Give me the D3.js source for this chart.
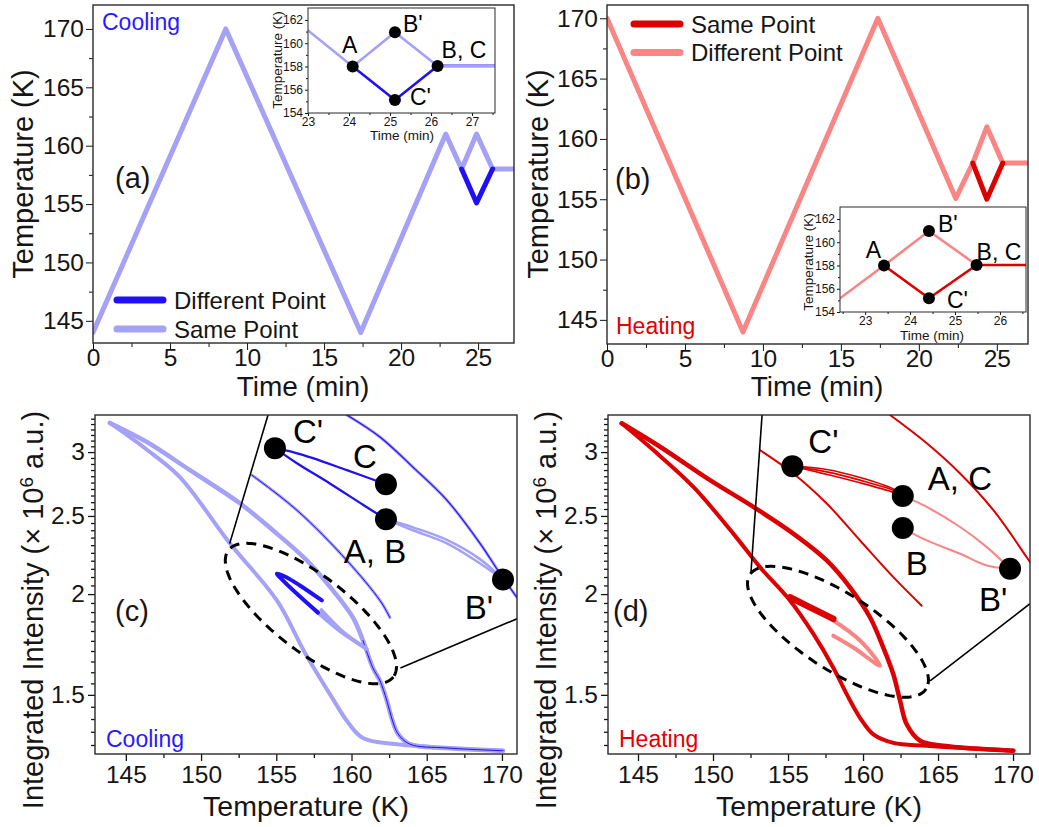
<!DOCTYPE html>
<html><head><meta charset="utf-8">
<script src="https://cdn.jsdelivr.net/npm/d3@7"></script>
<style>
body{margin:0;background:#fff;}
svg text{font-family:"Liberation Sans",Arial,Helvetica,sans-serif;}
</style></head><body>
<svg id="chart" width="1039" height="827"></svg>
<script>
// ================= DATA =================
// (a) Cooling temperature program
const aTime      = [0, 8.62, 17.38, 22.9, 23.93, 24.9, 25.94, 27.33];
const aTempSame  = [144, 170, 144, 161, 158, 161, 158, 158];
const aTimeDiff  = [23.93, 24.9, 25.94];
const aTempDiff  = [158, 155.1, 158];
// (a) inset
const aInsTimeSame = [23, 24.09, 25.12, 26.16, 27.56];
const aInsTempSame = [161.1, 158, 160.94, 158.05, 158.05];
const aInsTimeDiff = [24.09, 25.12, 26.16, 27.56];
const aInsTempDiff = [158, 155.12, 158.05, 158.05];
const aInsPts = [["A",24.09,158],["B'",25.12,160.94],["C'",25.12,155.12],["B, C",26.16,158.05]];

// (b) Heating temperature program
const bTime      = [0, 8.72, 17.37, 22.37, 23.46, 24.36, 25.38, 27.0];
const bTempDiff  = [170, 144, 170, 155.07, 158, 161, 158, 158];
const bTimeSame  = [23.46, 24.36, 25.38];
const bTempSame  = [158, 155, 158];
// (b) inset
const bInsTimeDiff = [22.44, 23.42, 24.42, 25.48];
const bInsTempDiff = [155.18, 158, 160.97, 158.04];
const bInsTimeSame = [23.42, 24.42, 25.48, 26.58];
const bInsTempSame = [158, 155.18, 158.04, 158.04];
const bInsPts = [["A",23.42,158],["B'",24.42,160.97],["C'",24.42,155.18],["B, C",25.48,158.04]];

// (c) Cooling: integrated intensity vs temperature [T (K), I (x1e6 a.u.)]
const cMajorRight = [[143.94,3.26],[146.4,3.087],[149.26,2.849],[152.58,2.592],[154.77,2.40],[157.03,2.202],[158.76,2.021],[160.09,1.871],[160.76,1.752],[161.42,1.62],[161.89,1.562],[162.35,1.475],[162.69,1.40],[163.09,1.342],[163.88,1.303],[166.34,1.289],[170.07,1.279]];
const cMajorLeft  = [[143.94,3.26],[146.4,3.02],[148.59,2.793],[151.91,2.312],[155.04,1.964],[156.9,1.692],[158.76,1.483],[159.69,1.393],[160.76,1.326],[163.02,1.303],[170.07,1.279]];
const cInner      = [[153.38,2.809],[156.37,2.541],[159.69,2.202],[161.89,1.964],[162.55,1.871]];
const cOuter      = [[159.69,3.335],[161.89,3.132],[164.08,2.874],[166.34,2.615],[168.54,2.312],[169.87,2.121],[171.0,1.98]];
const cDiffToC    = [[154.91,3.034],[156.1,3.0],[157.43,2.949],[159.69,2.849],[162.29,2.737]];
const cDiffToB    = [[154.91,3.034],[156.37,2.906],[158.56,2.743],[160.76,2.581],[162.29,2.476]];
const cSameToB1   = [[162.29,2.476],[164.08,2.40],[166.34,2.312],[168.54,2.183],[170.07,2.085]];
const cSameToB2   = [[162.29,2.476],[164.08,2.42],[166.34,2.335],[168.54,2.21],[170.07,2.085]];
const cLoopDiff   = [[158.03,1.964],[156.57,2.05],[155.57,2.103],[155.04,2.121],[155.44,2.08],[156.57,1.986],[157.77,1.897]];
const cLoopSame   = [[157.77,1.897],[159.23,1.80],[161.02,1.71],[159.5,1.79],[158.0,1.91]];
const cPts = [["C'",154.91,3.034],["C",162.29,2.737],["A, B",162.29,2.476],["B'",170.07,2.085]];
const cEllipse = [157.3, 1.892];
const cZoomLines = [[[151.9,2.31],[154.45,3.335]],[[163.25,1.62],[171.0,1.864]]];

// (d) Heating
const dMajorRight = [[143.91,3.257],[146.47,3.046],[149.8,2.769],[152.69,2.565],[155.35,2.377],[157.58,2.202],[159.13,2.039],[160.47,1.871],[161.35,1.717],[162.02,1.591],[162.47,1.475],[162.91,1.379],[163.8,1.316],[165.35,1.297],[170.02,1.279]];
const dMajorLeft  = [[143.91,3.257],[146.02,3.017],[148.69,2.716],[151.35,2.377],[153.13,2.16],[155.13,1.964],[156.69,1.785],[158.02,1.621],[158.91,1.503],[159.8,1.405],[160.69,1.34],[162.02,1.308],[164.25,1.297],[170.02,1.279]];
const dInner      = [[153.13,3.017],[155.35,2.822],[157.58,2.59],[159.8,2.331],[162.02,2.099],[163.91,1.935]];
const dOuter      = [[161.8,3.335],[164.25,3.076],[166.47,2.822],[168.69,2.541],[170.91,2.222],[171.8,2.10]];
const dSame1      = [[155.29,2.882],[157.58,2.855],[159.8,2.79],[162.02,2.70],[162.65,2.647]];
const dSame2      = [[155.29,2.882],[157.58,2.835],[159.8,2.769],[162.02,2.69],[162.65,2.647]];
const dSame3      = [[155.29,2.882],[157.58,2.815],[159.8,2.748],[162.02,2.675],[162.65,2.647]];
const dDiffAC     = [[162.65,2.647],[164.25,2.565],[166.47,2.422],[168.25,2.287],[169.8,2.15]];
const dDiffB      = [[162.65,2.415],[164.25,2.331],[166.47,2.244],[168.25,2.17],[169.8,2.15]];
const dLoopSame   = [[155.13,1.982],[156.47,1.926],[158.02,1.863]];
const dLoopDiff   = [[158.02,1.855],[159.8,1.752],[161.13,1.63],[159.35,1.717],[158.02,1.776]];
const dPts = [["C'",155.29,2.882],["A, C",162.65,2.647],["B",162.65,2.415],["B'",169.8,2.15]];
const dEllipse = [158.33, 1.796];
const dZoomLines = [[[152.53,2.127],[153.27,3.335]],[[164.47,1.561],[171.13,1.946]]];

// tick values
const timeTicks = [0,5,10,15,20,25];
const timeMinor = [2.5,7.5,12.5,17.5,22.5];
const tempTicks = [145,150,155,160,165,170];
const tempMinor = [147.5,152.5,157.5,162.5,167.5];
const intTicks  = [1.5,2,2.5,3];
const intMinor  = d3.range(1.3,3.34,0.05).map(v=>+v.toFixed(2)).filter(v=>!intTicks.includes(v));
const insTempTicks = [154,156,158,160,162];
const insTempMinor = [155,157,159,161];

// ================= STYLE =================
const BLUE="#2010f5", LAV="#a4a1f6", RED="#dc0000", SAL="#f98585";
const COOLTXT="#2a1aff", HEATTXT="#e00000", INK="#151515";
const svg = d3.select("#chart");

function axes(g, x, y, o){
  const y0=y.range()[0], y1=y.range()[1], x0=x.range()[0], x1=x.range()[1];
  const rm = s=>s.select(".domain").remove();
  g.append("g").attr("transform",`translate(0,${y0})`)
    .call(d3.axisBottom(x).tickValues(o.xMinor).tickSize(o.minLen).tickFormat("")).call(rm);
  g.append("g").attr("transform",`translate(0,${y0})`)
    .call(d3.axisBottom(x).tickValues(o.xMajor).tickSize(o.majLen).tickPadding(o.xPad).tickFormat(o.xFmt)).call(rm)
    .attr("font-size",o.fs).attr("font-family",null);
  g.append("g").attr("transform",`translate(${x0},0)`)
    .call(d3.axisLeft(y).tickValues(o.yMinor).tickSize(o.minLen).tickFormat("")).call(rm);
  g.append("g").attr("transform",`translate(${x0},0)`)
    .call(d3.axisLeft(y).tickValues(o.yMajor).tickSize(o.majLen).tickPadding(o.yPad).tickFormat(o.yFmt)).call(rm)
    .attr("font-size",o.fs).attr("font-family",null);
  g.selectAll(".tick line").attr("stroke",INK).attr("stroke-width",o.tw);
  g.selectAll(".tick text").attr("fill",INK);
  g.append("rect").attr("x",x0).attr("y",y1).attr("width",x1-x0).attr("height",y0-y1)
    .attr("fill","none").attr("stroke","#2a2a2a").attr("stroke-width",o.bw);
}
function clip(id, x, y){
  svg.append("clipPath").attr("id",id).append("rect")
    .attr("x",x.range()[0]).attr("y",y.range()[1])
    .attr("width",x.range()[1]-x.range()[0]).attr("height",y.range()[0]-y.range()[1]);
  return `url(#${id})`;
}
function drawXY(g, x, y, tArr, vArr, color, w){
  const line = d3.line().x((d,i)=>x(tArr[i])).y((d,i)=>y(vArr[i]));
  g.append("path").attr("d",line(tArr)).attr("fill","none").attr("stroke",color)
   .attr("stroke-width",w).attr("stroke-linejoin","round").attr("stroke-linecap","round");
}
function drawPairs(g, x, y, arr, color, w, curve){
  const line = d3.line().x(d=>x(d[0])).y(d=>y(d[1])).curve(curve||d3.curveCatmullRom.alpha(0.5));
  g.append("path").attr("d",line(arr)).attr("fill","none").attr("stroke",color)
   .attr("stroke-width",w).attr("stroke-linejoin","round").attr("stroke-linecap","round");
}
function text(g, s, x, y, o={}){
  const t = g.append("text").attr("x",x).attr("y",y).text(s)
    .attr("font-size",o.fs||24).attr("fill",o.fill||INK).attr("text-anchor",o.anchor||"start");
  if(o.rot) t.attr("transform",`rotate(-90,${x},${y})`);
  return t;
}
function markers(g, x, y, pts, r){
  g.selectAll(null).data(pts).join("circle").attr("cx",d=>x(d[1])).attr("cy",d=>y(d[2]))
    .attr("r",r).attr("fill","#000");
}
function ptLabels(g, x, y, pts, offs, fs){
  pts.forEach((p,i)=>{
    const o = offs[i];
    text(g, p[0], x(p[1])+o[0], y(p[2])+o[1], {fs:fs, anchor:o[2]||"start", fill:"#000"});
  });
}
function ellipse(g, x, y, c, a, b, ang){
  const cx=x(c[0]), cy=y(c[1]), phi=ang*Math.PI/180;
  const th = d3.range(0, 2*Math.PI, Math.PI/90);
  const line = d3.line().x(t=>cx + a*Math.cos(t)*Math.cos(phi) - b*Math.sin(t)*Math.sin(phi))
                        .y(t=>cy + a*Math.cos(t)*Math.sin(phi) + b*Math.sin(t)*Math.cos(phi))
                        .curve(d3.curveLinearClosed);
  g.append("path").attr("d",line(th)).attr("fill","none").attr("stroke","#000")
   .attr("stroke-width",3).attr("stroke-dasharray","10,7");
}
function connectors(g, x, y, segs){
  segs.forEach(s=>{
    g.append("line").attr("x1",x(s[0][0])).attr("y1",y(s[0][1]))
     .attr("x2",x(s[1][0])).attr("y2",y(s[1][1])).attr("stroke","#000").attr("stroke-width",1.6);
  });
}
function legend(g, x0, y0, dy, items){
  items.forEach((it,i)=>{
    g.append("line").attr("x1",x0).attr("x2",x0+46).attr("y1",y0+i*dy).attr("y2",y0+i*dy)
     .attr("stroke",it[1]).attr("stroke-width",7).attr("stroke-linecap","round");
    text(g, it[0], x0+57, y0+i*dy+8.5, {fs:24});
  });
}

const mainAxisOpt = {xMajor:timeTicks,xMinor:timeMinor,yMajor:tempTicks,yMinor:tempMinor,
  xFmt:d3.format("d"),yFmt:d3.format("d"),majLen:7,minLen:4,xPad:-1,yPad:2,fs:24.5,tw:1.3,bw:1.4};
const insAxisOpt = (xt,xm)=>({xMajor:xt,xMinor:xm,yMajor:insTempTicks,yMinor:insTempMinor,
  xFmt:d3.format("d"),yFmt:d3.format("d"),majLen:3,minLen:2,xPad:1,yPad:2,fs:12,tw:1,bw:1});
const tempAxisOpt = {xMajor:tempTicks,xMinor:tempMinor,yMajor:intTicks,yMinor:intMinor,
  xFmt:d3.format("d"),yFmt:d=>d3.format("")(d),majLen:7,minLen:4,xPad:5,yPad:3,fs:24.5,tw:1.3,bw:1.4};

// ================= PANEL (a) =================
{
  const g = svg.append("g");
  const x = d3.scaleLinear().domain([0,27.33]).range([93,514]);
  const y = d3.scaleLinear().domain([143.1,172.05]).range([343,5]);
  const gl = g.append("g").attr("clip-path",clip("ca",x,y));
  drawXY(gl,x,y,aTime,aTempSame,LAV,5);
  drawXY(gl,x,y,aTimeDiff,aTempDiff,BLUE,5);
  axes(g,x,y,mainAxisOpt);
  text(g,"Temperature (K)",23,174,{fs:29,anchor:"middle",rot:true}).attr("dy","0.36em");
  text(g,"Time (min)",303,396,{fs:28,anchor:"middle"});
  text(g,"Cooling",102,30,{fs:23,fill:COOLTXT});
  text(g,"(a)",115,188,{fs:29});
  legend(g,117,300,29,[["Different Point",BLUE],["Same Point",LAV]]);
  // inset
  const xi = d3.scaleLinear().domain([23,27.56]).range([308,495]);
  const yi = d3.scaleLinear().domain([154,163.03]).range([113,8]);
  g.append("rect").attr("x",308).attr("y",8).attr("width",187).attr("height",105).attr("fill","#fff");
  const gi = g.append("g").attr("clip-path",clip("cai",xi,yi));
  drawXY(gi,xi,yi,aInsTimeDiff,aInsTempDiff,BLUE,2.6);
  drawXY(gi,xi,yi,aInsTimeSame,aInsTempSame,LAV,2.6);
  axes(g,xi,yi,insAxisOpt([23,24,25,26,27],[23.5,24.5,25.5,26.5,27.5]));
  markers(g,xi,yi,aInsPts,6);
  ptLabels(g,xi,yi,aInsPts,[[-3,-13,"middle"],[8,0],[15,5],[4,-8]],23);
  text(g,"Time (min)",402,140,{fs:13.5,anchor:"middle"});
  text(g,"Temperature (K)",277,60,{fs:13.5,anchor:"middle",rot:true}).attr("dy","0.36em");
}

// ================= PANEL (b) =================
{
  const g = svg.append("g");
  const x = d3.scaleLinear().domain([0,27.0]).range([607,1028]);
  const y = d3.scaleLinear().domain([143.0,171.1]).range([344,5]);
  const gl = g.append("g").attr("clip-path",clip("cb",x,y));
  drawXY(gl,x,y,bTime,bTempDiff,SAL,5);
  drawXY(gl,x,y,bTimeSame,bTempSame,RED,5);
  axes(g,x,y,mainAxisOpt);
  text(g,"Temperature (K)",538,174,{fs:29,anchor:"middle",rot:true}).attr("dy","0.36em");
  text(g,"Time (min)",817,396,{fs:28,anchor:"middle"});
  text(g,"Heating",616,334,{fs:23,fill:HEATTXT});
  text(g,"(b)",615,189,{fs:29});
  legend(g,634,24,28.5,[["Same Point",RED],["Different Point",SAL]]);
  const xi = d3.scaleLinear().domain([22.44,26.58]).range([840,1026]);
  const yi = d3.scaleLinear().domain([154,163.03]).range([312,207]);
  g.append("rect").attr("x",840).attr("y",207).attr("width",186).attr("height",105).attr("fill","#fff");
  const gi = g.append("g").attr("clip-path",clip("cbi",xi,yi));
  drawXY(gi,xi,yi,bInsTimeDiff,bInsTempDiff,SAL,2.6);
  drawXY(gi,xi,yi,bInsTimeSame,bInsTempSame,RED,2.6);
  axes(g,xi,yi,insAxisOpt([23,24,25,26],[22.5,23.5,24.5,25.5,26.5]));
  markers(g,xi,yi,bInsPts,6);
  ptLabels(g,xi,yi,bInsPts,[[-3,-7,"end"],[9,1],[18,10],[0,-5]],23);
  text(g,"Time (min)",932,340,{fs:13.5,anchor:"middle"});
  text(g,"Temperature (K)",808,262,{fs:13.5,anchor:"middle",rot:true}).attr("dy","0.36em");
}

// ================= PANEL (c) =================
{
  const g = svg.append("g");
  const x = d3.scaleLinear().domain([142.95,171.0]).range([95,517]);
  const y = d3.scaleLog().domain([1.267,3.335]).range([754,415]);
  const gl = g.append("g").attr("clip-path",clip("cc",x,y));
  drawPairs(gl,x,y,cMajorLeft,LAV,4);
  drawPairs(gl,x,y,cMajorRight,LAV,4.5);
  drawPairs(gl,x,y,cMajorRight.slice(8),BLUE,1);
  drawPairs(gl,x,y,cInner,LAV,3);
  drawPairs(gl,x,y,cInner,BLUE,1);
  drawPairs(gl,x,y,cOuter,LAV,3);
  drawPairs(gl,x,y,cOuter,BLUE,1.1);
  drawPairs(gl,x,y,cSameToB1,LAV,2.5);
  drawPairs(gl,x,y,cSameToB2,LAV,2.5);
  drawPairs(gl,x,y,cDiffToC,BLUE,2.3);
  drawPairs(gl,x,y,cDiffToB,BLUE,2.3);
  drawPairs(gl,x,y,cLoopSame,LAV,4);
  drawPairs(gl,x,y,cLoopDiff,BLUE,4);
  ellipse(gl,x,y,cEllipse,104,38,37.6);
  connectors(gl,x,y,cZoomLines);
  markers(gl,x,y,cPts,11);
  axes(g,x,y,tempAxisOpt);
  ptLabels(g,x,y,cPts,[[18,-5],[-21,-16,"middle"],[-11,44,"middle"],[-24,39,"middle"]],33);
  text(g,"(c)",115,621,{fs:29});
  text(g,"Cooling",106,747,{fs:23,fill:COOLTXT});
  text(g,"Temperature (K)",306,816,{fs:28.5,anchor:"middle"});
  const t = text(g,"Integrated Intensity (× 10",33,610,{fs:29,anchor:"middle",rot:true}).attr("dy","0.36em");
  t.append("tspan").attr("font-size",19).attr("baseline-shift","super").text("6");
  t.append("tspan").text(" a.u.)");
}

// ================= PANEL (d) =================
{
  const g = svg.append("g");
  const x = d3.scaleLinear().domain([143.0,171.13]).range([608,1030]);
  const y = d3.scaleLog().domain([1.267,3.335]).range([754,415]);
  const gl = g.append("g").attr("clip-path",clip("cd",x,y));
  drawPairs(gl,x,y,dMajorLeft,RED,4);
  drawPairs(gl,x,y,dMajorRight,RED,4.5);
  drawPairs(gl,x,y,dInner,RED,2);
  drawPairs(gl,x,y,dOuter,RED,2);
  drawPairs(gl,x,y,dDiffAC,SAL,2);
  drawPairs(gl,x,y,dDiffB,SAL,2);
  drawPairs(gl,x,y,dSame1,RED,1.6);
  drawPairs(gl,x,y,dSame2,RED,1.6);
  drawPairs(gl,x,y,dSame3,RED,1.6);
  drawPairs(gl,x,y,dLoopDiff,SAL,4);
  drawPairs(gl,x,y,dLoopSame,RED,6.5);
  ellipse(gl,x,y,dEllipse,105,38,33);
  connectors(gl,x,y,dZoomLines);
  markers(gl,x,y,dPts,11);
  axes(g,x,y,tempAxisOpt);
  ptLabels(g,x,y,dPts,[[16,-13],[25,-6],[14,47,"middle"],[-17,42,"middle"]],33);
  text(g,"(d)",613,621,{fs:29});
  text(g,"Heating",619,747,{fs:23,fill:HEATTXT});
  text(g,"Temperature (K)",819,816,{fs:28.5,anchor:"middle"});
  const t = text(g,"Integrated Intensity (× 10",546,610,{fs:29,anchor:"middle",rot:true}).attr("dy","0.36em");
  t.append("tspan").attr("font-size",19).attr("baseline-shift","super").text("6");
  t.append("tspan").text(" a.u.)");
}
</script>
</body></html>
